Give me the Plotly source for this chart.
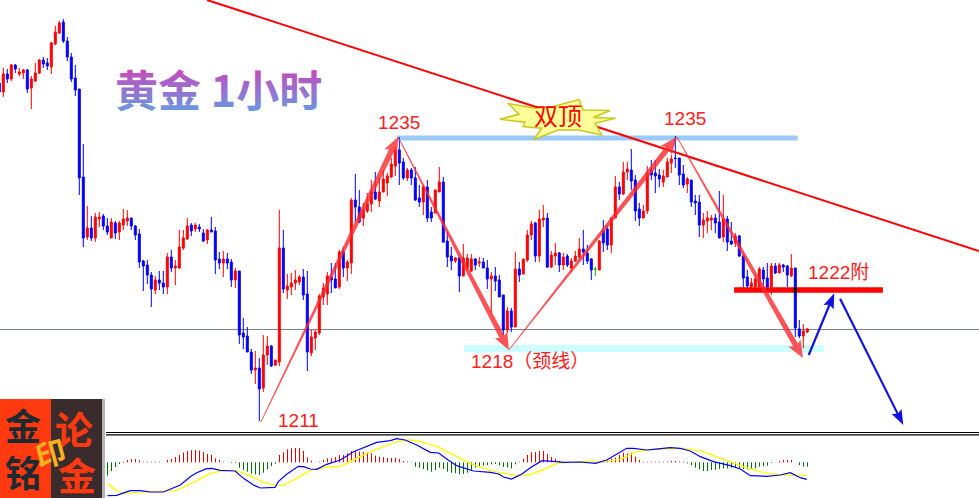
import plotly.graph_objects as go

# ------ gold 1 hour candles, bar -1 is cut off by the left edge ------ #
bar_high = [
    1239.60,1240.56,1240.48,1240.88,1240.88,1240.56,1240.48,1240.48,1239.92,1240.96,1241.28,
    1241.44,1241.36,1242.64,1243.92,1244.32,1244.48,1243.04,1241.76,1240.80,1238.88,
    1234.48,1229.52,1228.72,1228.96,1229.04,1228.88,1228.56,1228.56,1228.32,1228.32,
    1229.28,1229.20,1228.56,1228.00,1227.68,1225.20,1225.20,1224.24,1223.92,1224.32,
    1224.32,1225.76,1226.00,1225.20,1227.60,1227.60,1228.56,1228.16,1228.16,1228.08,
    1227.68,1227.68,1228.64,1227.84,1225.84,1225.92,1225.76,1225.28,1224.56,1224.32,
    1220.56,1219.84,1218.08,1217.92,1217.36,1219.20,1219.12,1218.40,1217.20,1229.20,
    1227.60,1224.08,1224.16,1224.40,1224.00,1224.48,1224.32,1219.60,1219.60,1222.48,
    1223.36,1224.24,1224.96,1224.96,1226.00,1226.24,1225.20,1230.16,1232.08,1230.80,
    1229.76,1230.56,1231.60,1232.24,1231.76,1232.40,1232.16,1233.36,1234.24,1235.04,
    1233.36,1232.56,1232.56,1232.64,1231.20,1231.20,1231.60,1229.44,1230.80,1232.64,
    1231.84,1227.44,1226.24,1225.44,1225.44,1226.48,1225.68,1225.68,1225.36,1225.44,
    1225.36,1225.20,1224.24,1224.64,1224.00,1222.40,1221.44,1221.36,1225.84,1225.04,
    1225.28,1227.60,1228.32,1228.24,1229.20,1229.60,1228.96,1225.92,1226.56,1225.84,
    1225.76,1225.68,1225.36,1225.92,1226.96,1227.60,1226.40,1225.36,1224.64,1226.80,
    1228.40,1228.00,1228.64,1231.92,1231.44,1233.04,1233.04,1234.08,1232.00,1229.76,
    1229.60,1232.72,1233.20,1233.20,1232.48,1232.40,1233.36,1233.60,1235.12,1233.36,
    1232.80,1231.84,1231.60,1230.40,1230.40,1228.96,1229.12,1228.80,1228.88,1230.72,
    1230.40,1228.72,1228.24,1227.36,1227.20,1225.60,1224.40,1223.76,1224.00,1224.64,
    1224.64,1224.96,1224.96,1224.96,1224.96,1224.88,1224.80,1225.68,1224.56,1220.40,1220.08,1219.76,
]
bar_low = [
    1238.32,1238.24,1239.36,1239.52,1240.16,1239.92,1239.68,1238.56,1237.28,1239.44,1240.08,
    1240.56,1240.40,1240.08,1242.40,1243.28,1242.56,1241.12,1239.44,1238.32,1230.40,
    1226.24,1226.80,1226.72,1226.64,1227.84,1227.60,1227.20,1226.96,1226.88,1226.80,
    1227.60,1227.92,1227.60,1226.80,1224.56,1222.72,1223.28,1221.44,1222.48,1222.80,
    1222.48,1222.48,1224.24,1223.20,1224.48,1226.00,1226.80,1227.12,1227.44,1227.44,
    1226.64,1226.48,1227.44,1224.08,1224.48,1223.84,1224.48,1223.04,1222.96,1218.48,
    1218.08,1217.84,1216.08,1215.28,1212.32,1214.64,1216.80,1216.64,1216.72,1216.72,
    1222.56,1222.08,1222.40,1222.80,1223.20,1222.00,1216.32,1217.52,1218.00,1219.20,
    1221.60,1221.60,1222.56,1222.96,1222.88,1223.84,1223.52,1224.08,1228.24,1228.16,
    1227.92,1228.96,1229.04,1230.00,1229.44,1230.64,1230.32,1231.76,1231.92,1231.20,
    1231.60,1231.52,1231.20,1229.92,1229.44,1228.80,1228.24,1228.24,1228.96,1230.64,
    1226.56,1224.64,1224.40,1224.96,1222.64,1223.92,1224.40,1224.24,1224.40,1224.64,
    1224.56,1222.88,1220.96,1222.72,1222.24,1219.20,1219.36,1219.44,1219.84,1223.44,
    1224.08,1225.04,1226.80,1225.04,1225.04,1227.84,1224.56,1224.56,1224.80,1224.24,
    1224.40,1224.64,1224.24,1225.04,1225.20,1224.80,1224.88,1223.60,1223.92,1224.40,
    1225.84,1226.00,1225.76,1228.56,1230.00,1230.40,1231.60,1230.80,1228.32,1227.92,
    1228.56,1228.88,1231.60,1230.56,1231.04,1231.04,1231.84,1232.16,1232.56,1231.20,
    1230.96,1230.56,1229.44,1228.80,1227.04,1226.96,1227.36,1227.60,1227.36,1226.96,
    1226.64,1225.92,1226.40,1226.24,1225.44,1222.96,1222.80,1222.96,1223.04,1223.04,
    1223.04,1222.80,1222.40,1224.08,1224.16,1224.24,1223.04,1223.84,1219.04,1218.96,1218.16,1219.36,
]
bar_open = [
    1239.36,1238.64,1240.08,1239.68,1240.80,1240.08,1240.16,1240.40,1238.96,1239.52,1240.16,
    1241.20,1240.96,1240.64,1242.48,1243.36,1244.24,1242.72,1241.44,1239.76,1238.88,
    1231.84,1227.04,1227.76,1226.96,1228.48,1228.72,1227.92,1226.96,1228.16,1227.44,
    1228.00,1228.32,1228.56,1227.92,1227.28,1225.12,1224.80,1224.00,1222.80,1223.60,
    1223.36,1223.04,1225.44,1224.56,1224.56,1226.16,1226.88,1228.00,1227.68,1227.84,
    1227.36,1226.80,1227.60,1227.52,1225.28,1224.96,1225.28,1225.04,1223.60,1224.32,
    1219.36,1219.12,1217.84,1216.40,1216.56,1214.96,1217.60,1218.32,1216.80,1217.04,
    1226.16,1222.80,1223.04,1223.36,1223.44,1223.84,1222.48,1217.76,1218.96,1219.36,
    1222.24,1222.48,1223.84,1223.68,1223.04,1225.84,1224.56,1224.96,1230.00,1229.44,
    1228.56,1229.12,1229.68,1230.64,1229.92,1230.64,1231.36,1231.84,1232.72,1234.00,
    1233.04,1231.76,1232.40,1231.76,1230.16,1229.84,1231.04,1229.04,1228.96,1230.64,
    1231.44,1226.72,1225.52,1225.12,1225.36,1223.92,1224.56,1224.32,1225.28,1224.96,
    1225.04,1224.56,1223.68,1223.92,1223.60,1222.40,1219.60,1221.12,1219.84,1224.48,
    1224.08,1225.20,1227.20,1228.16,1225.52,1228.40,1228.56,1224.64,1225.52,1225.76,
    1224.80,1225.52,1224.56,1225.12,1225.44,1226.08,1225.76,1225.28,1224.48,1224.40,
    1227.52,1227.68,1226.40,1228.56,1231.04,1230.48,1232.24,1232.40,1231.60,1229.28,
    1228.56,1229.12,1232.40,1232.16,1232.00,1231.44,1231.84,1232.96,1233.36,1233.36,
    1232.08,1231.28,1231.60,1229.92,1229.84,1228.00,1228.32,1228.40,1228.56,1228.24,
    1227.04,1228.48,1226.72,1226.56,1227.12,1225.52,1223.84,1223.04,1223.04,1223.04,
    1224.40,1223.76,1223.04,1224.72,1224.16,1224.80,1224.72,1223.92,1224.56,1219.68,1219.12,1219.44,
]
bar_close = [
    1238.64,1240.08,1239.68,1240.80,1240.48,1240.24,1240.40,1238.88,1239.68,1240.16,1241.20,
    1240.88,1240.72,1242.56,1243.44,1244.16,1242.72,1241.44,1239.68,1238.80,1231.76,
    1226.96,1227.76,1226.96,1228.64,1228.64,1227.92,1227.44,1228.24,1227.36,1228.16,
    1228.48,1228.56,1227.92,1227.20,1225.04,1224.72,1224.00,1222.88,1223.60,1223.36,
    1223.04,1225.44,1224.56,1224.72,1226.24,1226.96,1227.92,1227.52,1228.00,1227.68,
    1226.72,1227.60,1227.44,1225.20,1224.96,1225.28,1224.96,1223.60,1224.32,1219.20,
    1219.04,1217.84,1216.40,1216.56,1214.88,1217.60,1218.32,1216.72,1217.20,1226.16,
    1222.88,1223.12,1223.36,1223.60,1223.84,1222.40,1217.84,1219.04,1219.44,1222.32,
    1222.96,1223.92,1223.60,1222.96,1225.84,1224.56,1225.04,1230.00,1229.44,1228.24,
    1229.20,1229.68,1230.64,1230.08,1230.64,1231.68,1231.92,1232.88,1234.00,1232.96,
    1231.76,1232.40,1231.76,1230.00,1229.84,1231.04,1228.56,1228.56,1230.80,1231.44,
    1226.64,1225.44,1225.12,1225.36,1223.92,1225.36,1225.36,1225.28,1224.80,1225.04,
    1224.56,1223.68,1223.92,1223.52,1222.24,1219.60,1221.12,1219.84,1224.48,1224.00,
    1225.28,1227.20,1228.08,1225.52,1228.48,1228.56,1224.64,1225.60,1225.76,1224.80,
    1225.44,1224.80,1225.12,1225.52,1226.08,1225.84,1225.12,1224.40,1224.48,1226.72,
    1226.56,1226.40,1228.56,1231.04,1230.48,1232.24,1232.48,1231.52,1229.12,1228.56,
    1229.12,1232.16,1232.00,1231.92,1231.68,1231.92,1233.04,1233.28,1233.32,1232.00,
    1231.20,1231.68,1229.84,1229.76,1228.00,1228.40,1228.56,1228.56,1228.16,1226.96,
    1228.48,1226.64,1226.48,1227.12,1225.52,1223.76,1223.12,1223.36,1223.68,1224.48,
    1223.68,1223.04,1224.72,1224.16,1224.80,1224.64,1224.00,1224.56,1219.76,1219.12,1219.52,1219.68,
]
first_bar = -1
doji_bar = 148

# ------ macd panel, histogram starts at bar 26 ------ #
macd_hist = [
    -4.0,-2.6,-1.4,-0.5,-0.2,0.7,1.0,1.0,0.6,0.2,
    0.2,0.2,0.2,0.2,0,0.7,1.0,1.6,2.2,2.9,
    3.4,3.6,3.7,3.5,3.1,2.5,2.2,1.2,0.7,0.2,
    0,-0.2,-0.2,-1.6,-2.3,-2.8,-3.4,-3.6,-3.8,-3.1,
    -2.1,-1.1,-0.4,2.2,3.0,3.9,4.2,4.3,4.3,3.4,
    1.5,0.5,0,0.2,0.7,1.2,1.2,1.6,2.2,2.2,
    2.7,3.4,3.3,3.2,3.1,3.0,2.7,2.0,1.7,1.5,
    1.3,1.3,1.3,1.0,0.4,0.2,-0.1,-1.3,-1.6,-2.0,
    -2.4,-2.8,-2.3,-1.6,-2.0,-2.8,-3.1,-3.3,-3.6,-3.5,
    -3.1,-2.3,-1.6,-1.3,-1.0,-0.8,-0.6,-0.5,-0.8,-1.4,
    -1.5,-1.8,-0.6,0.2,1.0,2.2,3.0,3.1,3.4,3.4,
    2.5,1.6,1.1,0.4,0,0,0,0,0,0.2,
    0,0,-0.1,0,0.4,0.6,1.1,1.4,2.2,2.9,
    2.7,2.9,1.7,0.7,0.2,0.2,0.2,0.2,0.2,0.2,
    0.2,0.4,0.4,0.2,0.2,-0.3,-0.8,-1.6,-2.1,-2.6,
    -2.6,-2.3,-2.2,-2.0,-1.8,-1.8,-1.6,-1.6,-1.8,-2.0,
    -2.1,-2.1,-1.8,-1.3,-1.2,-1.0,-0.2,0,0.4,0.7,
    0.7,0.7,0,-0.8,-1.3,-1.3,
]
first_hist_bar = 26

macd_x = [26,28.3,29.7,31.7,34.2,36.7,40,41.7,44.2,46.7,48.3,50.8,52.1,54.2,57.9,60,62.5,64.2,67.9,68.7,
          70.8,73.7,75,76.7,78.3,80.8,84.2,87.5,90,93.3,96.7,98.3,100.4,103.3,106.7,108.8,110.8,113.3,117.5,
          121.7,123.8,125,127,129.6,131.7,134.6,138.3,140,144.2,148,150.8,153.3,155.8,157.5,160.8,162.5,
          166.7,169.2,171.7,174.2,177.5,181.7,184.2,186.7,190.8,194.2,196.7,199.2,200.8]
macd_y = [-10.0,-9.9,-9.3,-8.5,-8.5,-8.9,-8.9,-8.1,-6.8,-4.3,-3.1,-1.9,-1.8,-2.4,-2.6,-4.8,-6.8,-7.7,-7.5,-5.8,
          -3.6,-1.2,-1.3,-2.0,-2.1,-0.6,0.7,3.2,4.4,6.0,6.5,7.1,6.7,5.2,3.0,2.8,1.0,-1.0,-2.6,
          -3.0,-3.5,-4.4,-5.0,-3.5,-1.6,0.5,0.2,0,0.1,-0.3,0.7,2.5,4.2,4.2,3.7,3.9,
          4.4,4.2,3.4,1.7,0.2,-1.0,-2.0,-4.0,-4.2,-3.8,-3.1,-4.6,-5.1]
signal_x = [26,27.5,29.7,33.3,40,43.3,47.5,51.7,55,57.9,60.8,65,68.3,70,73.3,76.7,80.8,84.2,87.5,90.8,95,98.3,
            101.3,104.2,108.3,112.5,116.7,120,124,128.3,131.2,134.2,138.3,143.3,150,154.2,158.3,162.5,170,
            174.2,179.2,185,190,194.2,200.8]
signal_y = [-6.3,-7.8,-9.3,-9.1,-8.7,-8.4,-6.0,-3.3,-2.5,-2.5,-3.6,-6.0,-7.0,-6.9,-4.8,-2.4,-1.4,-1.2,0.7,2.7,4.7,6.2,
            6.7,6.3,4.8,2.2,-0.3,-1.8,-3.1,-3.9,-3.9,-2.6,-0.4,0.2,0.2,0.9,3.2,3.9,4.2,
            3.5,1.2,-1.3,-3.1,-3.8,-3.9]

# ------ levels and drawn lines, (bar, price) ------ #
last_price = 1219.64
top_level = (98.4, 198.6, 1234.96)
neck_level = (115.2, 205.1, 1218.12)
resist_level = (182.7, 219.9, 1222.8)
trend_line = ((50.93, 1246.0), (243.93, 1225.92))
red_arrows = [
    ((64.4, 1212.24), (98.7, 1235.04)),
    ((98.7, 1235.04), (126.4, 1218.0)),
    ((126.4, 1218.0), (168.35, 1235.04)),
    ((168.4, 1235.04), (199.9, 1217.36)),
]
blue_arrows = [
    ((201.35, 1217.6), (207.75, 1222.54)),
    ((209.2, 1222.1), (225.0, 1212.0)),
]
labels = [
    ("1235", 98.9, 1236.24),
    ("1235", 170.4, 1236.56),
    ("1211", 73.9, 1212.4),
    ("1218（颈线）", 131.6, 1217.12),
    ("1222附", 208.9, 1224.24),
]

W, H = 979, 498
PX_PER_BAR = 4.0
PX_PER_PRICE = 12.5
X_RANGE = [-3.3 / PX_PER_BAR, (W - 3.3) / PX_PER_BAR]
X2_RANGE = [X_RANGE[0] - 0.05, X_RANGE[1] - 0.05]  # puts the 1px macd ticks on whole pixels
Y_RANGE = [1246 - 431 / PX_PER_PRICE, 1246]
CJK = "Liberation Sans, Noto Sans CJK SC"


def arrow_poly(a, b, w0, w1, head_len, head_half):
    # tapered arrow, worked out in pixels then put back to bar/price
    ax, ay = a[0] * PX_PER_BAR, a[1] * PX_PER_PRICE
    bx, by = b[0] * PX_PER_BAR, b[1] * PX_PER_PRICE
    length = ((bx - ax) ** 2 + (by - ay) ** 2) ** 0.5
    ux, uy = (bx - ax) / length, (by - ay) / length
    nx, ny = -uy, ux
    neck_x, neck_y = bx - ux * head_len, by - uy * head_len
    pts = [
        (ax + nx * w0 / 2, ay + ny * w0 / 2),
        (neck_x + nx * w1 / 2, neck_y + ny * w1 / 2),
        (neck_x + nx * head_half - ux * 2, neck_y + ny * head_half - uy * 2),
        (bx, by),
        (neck_x - nx * head_half - ux * 2, neck_y - ny * head_half - uy * 2),
        (neck_x - nx * w1 / 2, neck_y - ny * w1 / 2),
        (ax - nx * w0 / 2, ay - ny * w0 / 2),
        (ax + nx * w0 / 2, ay + ny * w0 / 2),
    ]
    return [p[0] / PX_PER_BAR for p in pts], [p[1] / PX_PER_PRICE for p in pts]


def candles(idx, inc, dec):
    return go.Candlestick(
        x=[i + first_bar for i in idx],
        open=[bar_open[i] for i in idx],
        high=[bar_high[i] for i in idx],
        low=[bar_low[i] for i in idx],
        close=[bar_close[i] for i in idx],
        increasing=dict(line=dict(color=inc, width=1), fillcolor=inc),
        decreasing=dict(line=dict(color=dec, width=1), fillcolor=dec),
        whiskerwidth=0,
        xaxis="x",
        yaxis="y",
    )


def hist_ticks(keep):
    xs, ys = [], []
    for i, v in enumerate(macd_hist):
        if keep(v):
            xs += [first_hist_bar + i, first_hist_bar + i, None]
            ys += [0, v, None]
    return xs, ys


for name, arr in [("low", bar_low), ("open", bar_open), ("close", bar_close)]:
    assert len(arr) == len(bar_high), (name, len(arr), len(bar_high))
assert len(macd_hist) == 176, len(macd_hist)
assert len(macd_x) == len(macd_y), (len(macd_x), len(macd_y))
assert len(signal_x) == len(signal_y), (len(signal_x), len(signal_y))

fig = go.Figure()

all_idx = [i for i in range(len(bar_high)) if i + first_bar != doji_bar]
fig.add_trace(candles(all_idx, "#FF0000", "#0000FF"))
fig.add_trace(candles([doji_bar - first_bar], "#00C000", "#00C000"))

fig.add_trace(go.Scatter(
    x=[trend_line[0][0], trend_line[1][0]], y=[trend_line[0][1], trend_line[1][1]],
    mode="lines", line=dict(color="#FF0000", width=2),
))
fig.add_trace(go.Scatter(x=[resist_level[0], resist_level[1]], y=[resist_level[2], resist_level[2]],
                         mode="lines", line=dict(color="#FF0000", width=5.5)))
# the last big blue candle shows through the red level as black
fig.add_trace(go.Scatter(x=[197.6, 198.4], y=[resist_level[2], resist_level[2]],
                         mode="lines", line=dict(color="#000000", width=5.5)))
for a, b in red_arrows:
    xs, ys = arrow_poly(a, b, 0.8, 5.5, 15, 7)
    fig.add_trace(go.Scatter(x=xs, y=ys, mode="lines", fill="toself", line=dict(width=0),
                             fillcolor="rgba(255,40,45,0.8)"))
for a, b in blue_arrows:
    xs, ys = arrow_poly(a, b, 2.2, 2.2, 13, 5.5)
    fig.add_trace(go.Scatter(x=xs, y=ys, mode="lines", fill="toself", line=dict(width=0),
                             fillcolor="#1212E0"))

# macd
up_x, up_y = hist_ticks(lambda v: v > 0)
dn_x, dn_y = hist_ticks(lambda v: v < 0)
fig.add_trace(go.Scatter(x=up_x, y=up_y, mode="lines", line=dict(color="#E00000", width=1),
                         xaxis="x2", yaxis="y2"))
fig.add_trace(go.Scatter(x=dn_x, y=dn_y, mode="lines", line=dict(color="#006E00", width=1),
                         xaxis="x2", yaxis="y2"))
fig.add_trace(go.Scatter(x=signal_x, y=signal_y, mode="lines", line=dict(color="#FFFF00", width=1.4),
                         xaxis="x2", yaxis="y2"))
fig.add_trace(go.Scatter(x=macd_x, y=macd_y, mode="lines", line=dict(color="#0000FF", width=1.2),
                         xaxis="x2", yaxis="y2"))

shapes = [
    dict(type="line", xref="paper", x0=0, x1=1, yref="y", y0=last_price, y1=last_price,
         line=dict(color="#7A8494", width=1), layer="below"),
    dict(type="rect", xref="x", yref="y", x0=top_level[0], x1=top_level[1],
         y0=top_level[2] - 0.19, y1=top_level[2] + 0.19, fillcolor="#9CCAF8", line_width=0, layer="below"),
    dict(type="rect", xref="x", yref="y", x0=neck_level[0], x1=neck_level[1],
         y0=neck_level[2] - 0.28, y1=neck_level[2] + 0.28, fillcolor="#CCFFFF", line_width=0, layer="below"),
]

# sunburst behind 双顶, outline points in pixels around its centre
star_pts = [(15,73),(72,58),(40,26),(120,40),(175,35),(252,14),(265,45),(345,47),(295,68),(362,70),
            (300,85),(320,120),(250,105),(190,105),(118,133),(140,100),(85,95),(90,82)]
star_path = "M" + " L".join(f"{(x - 190) / 3:.1f},{(70 - y) / 3:.1f}" for x, y in star_pts) + " Z"
shapes.append(dict(type="path", path=star_path, xsizemode="pixel", ysizemode="pixel",
                   xref="x", yref="y", xanchor=138.75, yanchor=1236.54,
                   fillcolor="#FFFF99", line=dict(color="#C8C81E", width=1.5)))

# double rule above macd panel
for py in [432.5, 434.8]:
    shapes.append(dict(type="line", xref="paper", yref="paper", x0=106 / W, x1=1,
                       y0=1 - py / H, y1=1 - py / H, line=dict(color="#000000", width=1.2)))

# stamp in the bottom left corner
for x0, x1, y0, color in [(0, 51, 399, "#FF3A10"), (51, 102, 399, "#3A2C2C"), (102, 105, 399, "#B4B4B4")]:
    shapes.append(dict(type="rect", xref="paper", yref="paper", x0=x0 / W, x1=x1 / W,
                       y0=0, y1=1 - y0 / H, fillcolor=color, line_width=0))

annotations = []
for text, bar, price in labels:
    annotations.append(dict(x=bar, y=price, xref="x", yref="y", text=text, showarrow=False,
                            font=dict(family=CJK, size=19, color="#FF2020")))
annotations.append(dict(x=138.7, y=1236.72, xref="x", yref="y", text="双顶", showarrow=False,
                        font=dict(family=CJK, size=24, color="#FF0000")))
annotations.append(dict(x=53.9, y=1238.95, xref="x", yref="y", text="<b>黄金 1小时</b>", showarrow=False,
                        font=dict(family="Noto Sans CJK SC", size=43, color="#A86CC0")))
for text, px, py, size, color, angle in [
    ("金", 23, 424, 36, "#1E2A30", 0),
    ("铭", 23, 471, 36, "#1E2A30", 0),
    ("论", 74, 427, 38, "#FF3A10", 0),
    ("金", 77, 473, 38, "#FF3A10", 0),
    ("印", 50, 452, 30, "#F5B21E", -15),
]:
    annotations.append(dict(x=px / W, y=1 - py / H, xref="paper", yref="paper", text=f"<b>{text}</b>",
                            showarrow=False, textangle=angle, xanchor="center", yanchor="middle",
                            font=dict(family="Noto Sans CJK SC", size=size, color=color)))

fig.update_layout(
    width=W, height=H, margin=dict(l=0, r=0, t=0, b=0),
    paper_bgcolor="#FFFFFF", plot_bgcolor="rgba(0,0,0,0)",
    showlegend=False, shapes=shapes, annotations=annotations,
    xaxis=dict(domain=[0, 1], range=X_RANGE, visible=False, rangeslider_visible=False, anchor="y"),
    yaxis=dict(domain=[1 - 431 / H, 1], range=Y_RANGE, visible=False, anchor="x"),
    xaxis2=dict(domain=[0, 1], range=X2_RANGE, visible=False, anchor="y2"),
    yaxis2=dict(domain=[0, 61 / H], range=[-10.7, 7.6], visible=False, anchor="x2"),
)

# title has a magenta to blue fade, plotly text can only do flat colours
post = """
document.body.style.margin = '0';
var gd = document.getElementById('{plot_id}');
var svg = gd.querySelector('svg.main-svg');
var ns = 'http://www.w3.org/2000/svg';
var g = document.createElementNS(ns, 'linearGradient');
g.setAttribute('id', 'titlefade');
g.setAttribute('x1', '0'); g.setAttribute('y1', '0'); g.setAttribute('x2', '0'); g.setAttribute('y2', '1');
[['15%', '#CC44BB'], ['85%', '#6C96E0']].forEach(function (s) {
  var st = document.createElementNS(ns, 'stop');
  st.setAttribute('offset', s[0]); st.setAttribute('stop-color', s[1]);
  g.appendChild(st);
});
svg.querySelector('defs').appendChild(g);
gd.querySelectorAll('.annotation-text').forEach(function (t) {
  if (t.textContent.indexOf('1小时') >= 0) {
    t.style.fill = 'url(#titlefade)';
    t.querySelectorAll('tspan').forEach(function (s) { s.style.fill = 'url(#titlefade)'; });
  }
});
"""

fig.write_html("out.html", post_script=post, config=dict(displayModeBar=False))
